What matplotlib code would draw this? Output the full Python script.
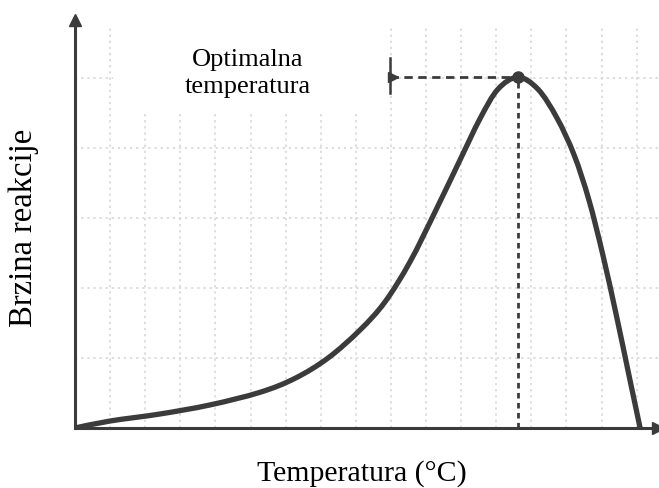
import matplotlib.pyplot as plt
from matplotlib.patches import Rectangle, PathPatch
from matplotlib.path import Path

# podaci ocitani sa slike (jedinica x = jedna kolona mreze, jedinica y = jedan red mreze)
temperatura = [0.0, 1.00, 2.42, 3.85, 5.27, 6.27, 7.21, 8.12, 8.83, 9.54, 10.26,
               10.97, 11.54, 12.05, 12.62, 13.19, 13.73, 14.22, 14.64, 15.04,
               15.44, 15.78, 16.10]
brzina = [0.0, 0.10, 0.20, 0.33, 0.51, 0.71, 1.00, 1.40, 1.80, 2.37, 3.09,
          3.83, 4.42, 4.84, 5.01, 4.84, 4.43, 3.90, 3.26, 2.47,
          1.57, 0.76, 0.0]

opt_x = 12.62
opt_y = 5.01
oznaka_x = 8.97   # pocetak isprekidane linije

stupci = 16
redovi = 5

boja = "#3b3b3b"
plt.rcParams["font.family"] = ["Liberation Serif", "DejaVu Serif"]


# glatka linija kroz ocitane tocke (Catmull-Rom -> Bezier kontrolne tocke)
def glatka_putanja(xs, ys):
    tocke = list(zip(xs, ys))
    p = [tocke[0]] + tocke + [tocke[-1]]
    verts = [tocke[0]]
    codes = [Path.MOVETO]
    for i in range(1, len(p) - 2):
        x0, y0 = p[i - 1]
        x1, y1 = p[i]
        x2, y2 = p[i + 1]
        x3, y3 = p[i + 2]
        verts += [(x1 + (x2 - x0) / 6, y1 + (y2 - y0) / 6),
                  (x2 - (x3 - x1) / 6, y2 - (y3 - y1) / 6),
                  (x2, y2)]
        codes += [Path.CURVE4] * 3
    return Path(verts, codes)


fig = plt.figure(figsize=(6.59, 4.88), dpi=100)
ax = fig.add_axes([75 / 659, 60 / 488, 584 / 659, 416 / 488])
ax.set_xlim(0, 584 / 35.1)
ax.set_ylim(0, 416 / 70)
ax.axis("off")

# mreza
for i in range(1, stupci + 1):
    ax.plot([i, i], [0, 5.76], color="#d4d4d4", lw=1.1, ls=(0, (1.5, 2.5)), zorder=1)
for j in range(1, redovi + 1):
    ax.plot([0, 16.64], [j, j], color="#d4d4d4", lw=1.1, ls=(0, (1.5, 2.5)), zorder=1)

# bijela pozadina iza natpisa
ax.add_patch(Rectangle((1.08, 4.52), 7.85, 1.6, facecolor="white", edgecolor="none", zorder=2))

# osi sa strelicama
ax.plot([0, 0], [0, 5.75], color=boja, lw=2.2, zorder=3, clip_on=False)
ax.plot([0], [5.83], marker="^", ms=9, color=boja, zorder=3, clip_on=False)
ax.plot([0, 16.6], [0, 0], color=boja, lw=2.2, zorder=3, clip_on=False)
ax.plot([16.62], [0], marker=">", ms=9, color=boja, zorder=3, clip_on=False)

# krivulja
ax.add_patch(PathPatch(glatka_putanja(temperatura, brzina), facecolor="none", edgecolor=boja,
                       lw=3.8, capstyle="round", joinstyle="round", zorder=5))

# optimalna temperatura
ax.plot([oznaka_x, opt_x], [opt_y, opt_y], color=boja, lw=2, ls=(0, (3, 2)), zorder=4)
ax.plot([opt_x, opt_x], [0, opt_y], color=boja, lw=2, ls=(0, (2, 1.6)), zorder=4)
ax.plot([oznaka_x, oznaka_x], [4.79, 5.29], color=boja, lw=1.8, zorder=4)
ax.plot([oznaka_x + 0.1], [opt_y], marker=">", ms=7, color=boja, zorder=4)
ax.plot([opt_x], [opt_y], marker="o", ms=8, color=boja, zorder=6)

ax.text(4.93, 5.06, "Optimalna\ntemperatura", fontsize=19, ha="center", va="center",
        linespacing=1.3, zorder=7)

fig.text(362 / 659, 1 - 474 / 488, "Temperatura (°C)", fontsize=21.5, ha="center", va="center")
fig.text(24 / 659, 1 - 228 / 488, "Brzina reakcije", fontsize=23.5, ha="center", va="center",
         rotation=90)

fig.savefig("out.png", dpi=100)
